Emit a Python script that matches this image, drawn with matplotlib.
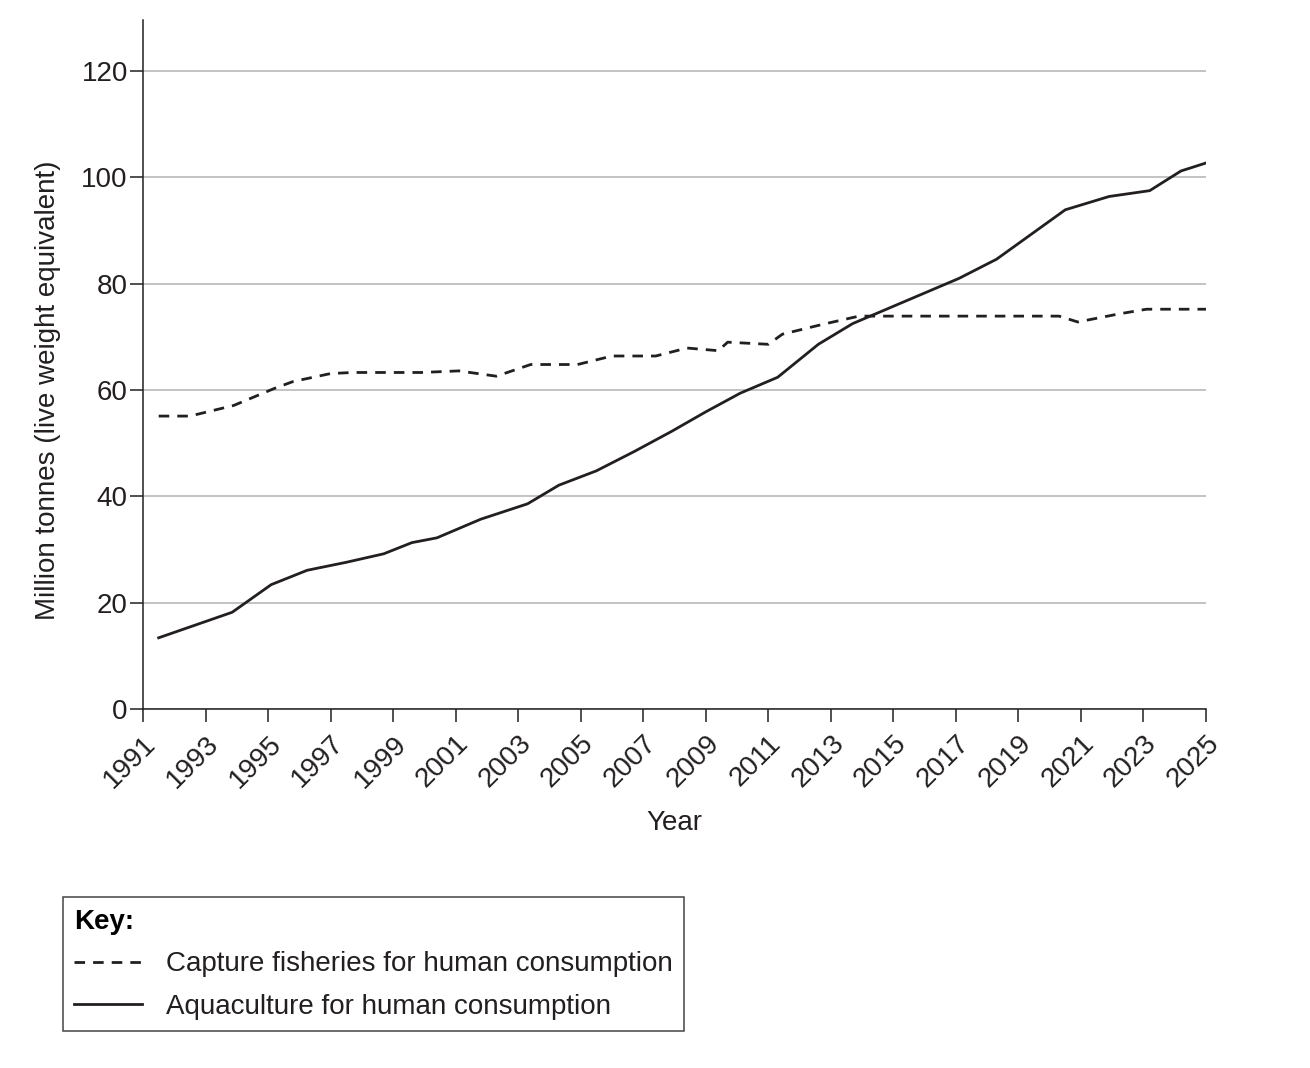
import matplotlib
matplotlib.use('Agg')
from matplotlib import pyplot as plt

plt.rcParams['font.family'] = ['Liberation Sans', 'DejaVu Sans']

# values (x in fractional years)
capture_years = [1991.5, 1992.5, 1993.9, 1995.2, 1995.8, 1997.0, 1997.7, 1999.9, 2001.1, 2002.3,
                 2003.4, 2004.9, 2006.0, 2007.4, 2008.4, 2009.4, 2009.7, 2011.0, 2011.45, 2012.7,
                 2013.9, 2020.3, 2020.9, 2022.2, 2023.1, 2025.0]
capture_values = [55.1, 55.1, 57.1, 60.3, 61.6, 63.1, 63.3, 63.3, 63.6, 62.6,
                  64.8, 64.8, 66.4, 66.4, 67.9, 67.4, 69.0, 68.6, 70.5, 72.3,
                  73.9, 73.9, 72.8, 74.3, 75.2, 75.2]

aqua_years = [1991.5, 1993.85, 1995.1, 1996.25, 1997.5, 1998.7, 1999.6, 2000.4, 2001.8, 2003.3,
              2004.3, 2005.5, 2006.7, 2007.9, 2009.0, 2010.1, 2011.3, 2012.6, 2013.7, 2017.1,
              2018.3, 2020.5, 2021.9, 2023.2, 2024.2, 2025.0]
aqua_values = [13.4, 18.2, 23.4, 26.1, 27.6, 29.2, 31.3, 32.2, 35.7, 38.6,
               42.1, 44.8, 48.4, 52.2, 55.9, 59.4, 62.4, 68.6, 72.5, 81.0,
               84.6, 93.9, 96.4, 97.5, 101.2, 102.7]

x_ticks = list(range(1991, 2026, 2))
y_ticks = [0, 20, 40, 60, 80, 100, 120]

ink = '#231f20'
fs = 20

fig = plt.figure(figsize=(13.1, 10.68), dpi=100)
ax = fig.add_axes([0.1092, 0.3361, 0.8114, 0.6452])

capture, = ax.plot(capture_years, capture_values, color=ink, lw=2.0, linestyle=(0, (3.8, 2.9)),
                   label='Capture fisheries for human consumption')
aqua, = ax.plot(aqua_years, aqua_values, color=ink, lw=2.0,
                label='Aquaculture for human consumption')

ax.set_xlim(1991, 2025)
ax.set_ylim(0, 129.6)
ax.set_xticks(x_ticks)
ax.set_yticks(y_ticks)
ax.set_xticklabels([str(y) for y in x_ticks], rotation=45, ha='right', rotation_mode='anchor')
ax.tick_params(axis='both', direction='out', length=9.5, width=1.1, color=ink,
               labelsize=fs, labelcolor=ink)
ax.tick_params(axis='y', pad=1.5)
ax.tick_params(axis='x', pad=6)
ax.grid(axis='y', color='#b3b3b3', lw=1.1)
ax.set_axisbelow(True)

for side in ('top', 'right'):
    ax.spines[side].set_visible(False)
for side in ('left', 'bottom'):
    ax.spines[side].set_color(ink)
    ax.spines[side].set_linewidth(1.1)

ax.set_xlabel('Year', fontsize=fs, color=ink)
ax.xaxis.set_label_coords(0.5, -0.147)
ax.set_ylabel('Million tonnes (live weight equivalent)', fontsize=fs, color=ink)
ax.yaxis.set_label_coords(-0.077, 60 / 129.6)

leg = fig.legend(handles=[capture, aqua], loc='lower left', bbox_to_anchor=(0.048, 0.0346),
                 borderaxespad=0, title='Key:', alignment='left', fontsize=fs,
                 title_fontproperties={'weight': 'bold', 'size': fs},
                 fancybox=False, edgecolor='#444444', framealpha=1, handlelength=2.45,
                 handletextpad=0.86, borderpad=0.4, labelspacing=0.6)
leg.get_frame().set_linewidth(1.1)
for t in leg.get_texts():
    t.set_color(ink)

fig.savefig('out.png', dpi=100)
